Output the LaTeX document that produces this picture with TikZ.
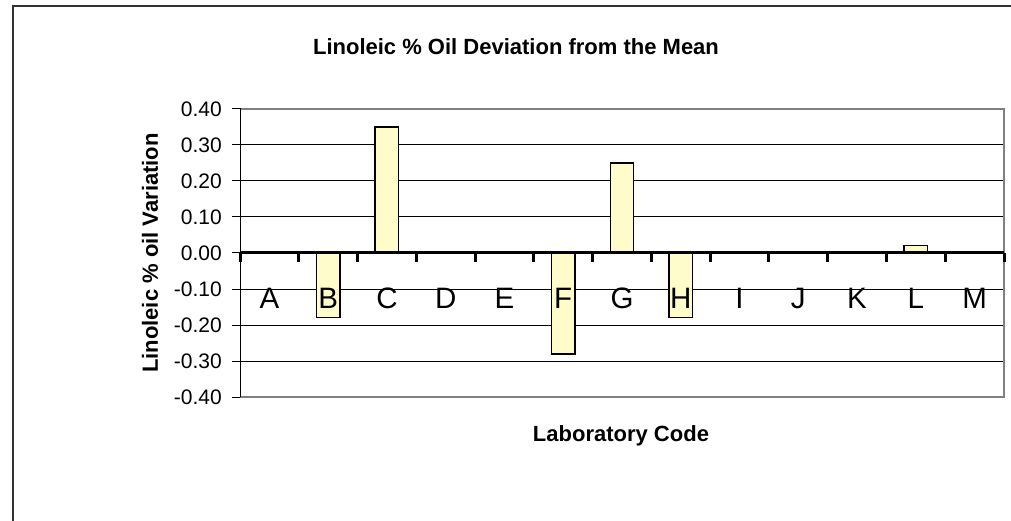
\documentclass[tikz,border=0pt]{standalone}
\usepackage{fontspec}
\setmainfont{Liberation Sans}
\begin{document}
\begin{tikzpicture}[x=1pt,y=-1pt,
  titletext/.style={font=\fontsize{22}{24}\selectfont\bfseries, inner sep=0pt},
  ticktext/.style={font=\fontsize{21}{24}\selectfont, inner sep=0pt, anchor=east},
  cattext/.style={font=\fontsize{29.5}{32}\selectfont, inner sep=0pt},
  grid line/.style={black, line width=1pt},
  bar/.style={draw=black, line width=1.4pt, fill=yellow!20},
  zeroaxis/.style={black, line width=3pt},
  frameline/.style={black!80, line width=2pt}]
\useasboundingbox (0,0) rectangle (1011,521);
% outer chart frame
\draw[frameline] (13,521) -- (13,6) -- (1011,6);
% gridlines
\foreach \k in {3,2,1,-1,-2,-3}
  \draw[grid line] (240,{253-36*\k}) -- (1004,{253-36*\k});
% plot border
\draw[gray, line width=2pt] (240,109) -- (1004,109) -- (1004,397) -- (240,397);
\draw[black, line width=1pt] (240,108) -- (240,397);
% y ticks and labels
\foreach \k/\t in {4/0.40,3/0.30,2/0.20,1/0.10,0/0.00,-1/-0.10,-2/-0.20,-3/-0.30,-4/-0.40}{
  \draw[black, line width=1pt] (232,{253-36*\k}) -- (240,{253-36*\k});
  \node[ticktext] (y\k) at (222,{253-36*\k}) {\t};
}
% bars
\foreach \i/\v in {1/-0.18,2/0.35,5/-0.28,6/0.25,7/-0.18,11/0.02}
  \draw[bar] ({240+(\i+0.5)*58.769-11.75},253) rectangle ({240+(\i+0.5)*58.769+11.75},{253-360*\v});
% zero axis with ticks
\draw[zeroaxis] (240,253) -- (1004,253);
\foreach \i in {0,...,13}
  \draw[zeroaxis] ({240+\i*58.769},253) -- ({240+\i*58.769},262);
% category labels
\foreach \i/\c in {0/A,1/B,2/C,3/D,4/E,5/F,6/G,7/H,8/I,9/J,10/K,11/L,12/M}
  \node[cattext] (c\c) at ({240+(\i+0.5)*58.769},298) {\c};
% titles
\node[titletext] (title) at (516,47) {Linoleic \% Oil Deviation from the Mean};
\node[titletext, rotate=90] (ytitle) at (150,253) {Linoleic \% oil Variation};
\node[titletext] (xtitle) at (621,436) {Laboratory Code};
\end{tikzpicture}
\end{document}
